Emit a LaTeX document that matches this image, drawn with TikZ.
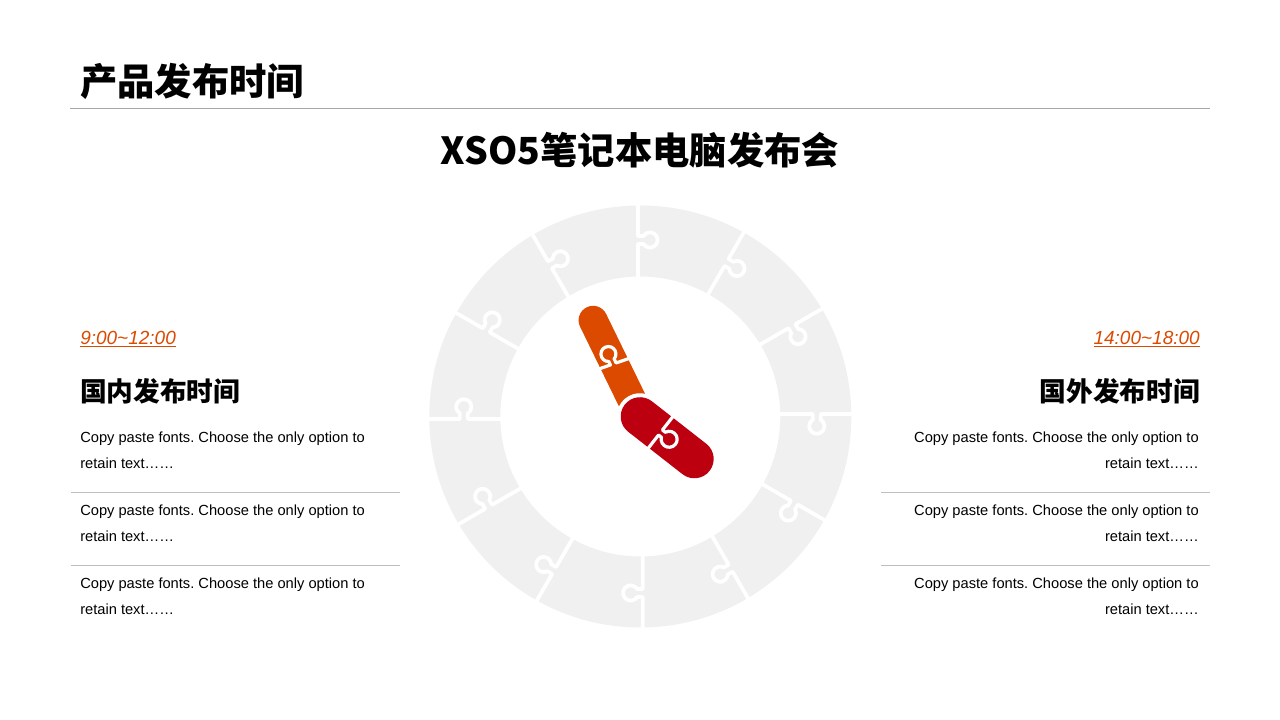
\documentclass[tikz,border=0pt]{standalone}
\usepackage{fontspec}
\setmainfont{Liberation Sans}
\newfontfamily\cjk{Noto Sans CJK SC}
\definecolor{piece}{HTML}{F0F0F0}
\definecolor{hando}{HTML}{DC4A00}
\definecolor{handr}{HTML}{BC000F}
\definecolor{rulec}{HTML}{A6A6A6}
\definecolor{sepc}{HTML}{BFBFBF}
\frenchspacing
\tikzset{
  titletext/.style={inner sep=0,anchor=base west,font=\cjk\bfseries\fontsize{28}{28}\selectfont,text=black},
  headtext/.style={inner sep=0,anchor=base,font=\cjk\bfseries\fontsize{28}{28}\selectfont,text=black},
  subtext/.style={inner sep=0,font=\cjk\bfseries\fontsize{20}{20}\selectfont,text=black},
  timetext/.style={inner sep=0,font=\fontsize{14.25}{15}\selectfont\itshape,text=hando},
  bodyl/.style={inner sep=0,anchor=base west,font=\fontsize{11}{11}\selectfont,text=black},
  bodyr/.style={inner sep=0,anchor=base east,font=\fontsize{11}{11}\selectfont,text=black},
  sepline/.style={draw=sepc,line width=0.6pt},
  cutline/.style={draw=white,line width=2.8pt,line join=round},
  handcut/.style={draw=white,line width=2.4pt,line join=round},
}
\newcommand{\ringknob}[1]{%
  \begin{scope}[shift={(640.3,303.5)},rotate=#1]
    \draw[cutline] (136,2.4) -- (172.5,2.4) -- (172.5,-3.2)
      arc (121.8:418.2:7.6) -- (180.5,2.4) -- (215,2.4);
  \end{scope}}
\begin{document}
\begin{tikzpicture}[x=0.75pt,y=0.75pt]
\useasboundingbox (0,0) rectangle (1280,720);
\fill[white] (0,0) rectangle (1280,720);
% title
\node[titletext] (title) at (80,624) {产品发布时间};
\coordinate (ruleA) at (70,611.5);
\coordinate (ruleB) at (1210,611.5);
\draw[draw=rulec,line width=0.75pt] (ruleA) -- (ruleB);
\node[headtext] (head) at (640,555.5) {XSO5笔记本电脑发布会};
% ring
\fill[piece,even odd rule] (640.3,303.5) circle (211) (640.3,303.5) circle (140);
\foreach \a in {0,30,...,330} {\ringknob{\a}}
% orange hand
\begin{scope}[shift={(640,303.5)},rotate=116]
  \fill[hando] (0,14.5) -- (107,14.5) arc (90:-90:14.5) -- (0,-14.5) -- cycle;
  \draw[handcut] (60.8,17) -- (59.3,4) -- (63.13,4)
    arc (156.4:-156.4:7.5) -- (58.6,-2) -- (56.8,-17);
\end{scope}
% red hand
\begin{scope}[shift={(640,303.5)},rotate=-38]
  \fill[white] (0,0) circle (23.3);
  \fill[handr] (0,19.3) -- (69,19.3) arc (90:-90:19.3) -- (0,-19.3) arc (270:90:19.3) -- cycle;
  \draw[handcut] (26,21) -- (26,3.2) -- (29.67,3.2)
    arc (156.4:-156.4:8) -- (26,-3.2) -- (26,-21);
\end{scope}
% left column
\node[timetext,anchor=base west] (tl) at (80,375.5) {\underline{9:00\textasciitilde12:00}};
\node[subtext,anchor=base west] (sl) at (80,318) {国内发布时间};
\node[bodyl] (l1a) at (80,277) {Copy paste fonts. Choose the only option to};
\node[bodyl] (l1b) at (80,251) {retain text……};
\node[bodyl] (l2a) at (80,204) {Copy paste fonts. Choose the only option to};
\node[bodyl] (l2b) at (80,178) {retain text……};
\node[bodyl] (l3a) at (80,131) {Copy paste fonts. Choose the only option to};
\node[bodyl] (l3b) at (80,105) {retain text……};
\coordinate (s1a) at (71,227.5); \coordinate (s1b) at (400,227.5);
\coordinate (s2a) at (71,154.5); \coordinate (s2b) at (400,154.5);
\draw[sepline] (s1a) -- (s1b);
\draw[sepline] (s2a) -- (s2b);
% right column
\node[timetext,anchor=base east] (tr) at (1200,375.5) {\underline{14:00\textasciitilde18:00}};
\node[subtext,anchor=base east] (sr) at (1200,318) {国外发布时间};
\node[bodyr] (r1a) at (1199,277) {Copy paste fonts. Choose the only option to};
\node[bodyr] (r1b) at (1199,251) {retain text……};
\node[bodyr] (r2a) at (1199,204) {Copy paste fonts. Choose the only option to};
\node[bodyr] (r2b) at (1199,178) {retain text……};
\node[bodyr] (r3a) at (1199,131) {Copy paste fonts. Choose the only option to};
\node[bodyr] (r3b) at (1199,105) {retain text……};
\coordinate (s3a) at (881,227.5); \coordinate (s3b) at (1210,227.5);
\coordinate (s4a) at (881,154.5); \coordinate (s4b) at (1210,154.5);
\draw[sepline] (s3a) -- (s3b);
\draw[sepline] (s4a) -- (s4b);
\end{tikzpicture}
\end{document}
